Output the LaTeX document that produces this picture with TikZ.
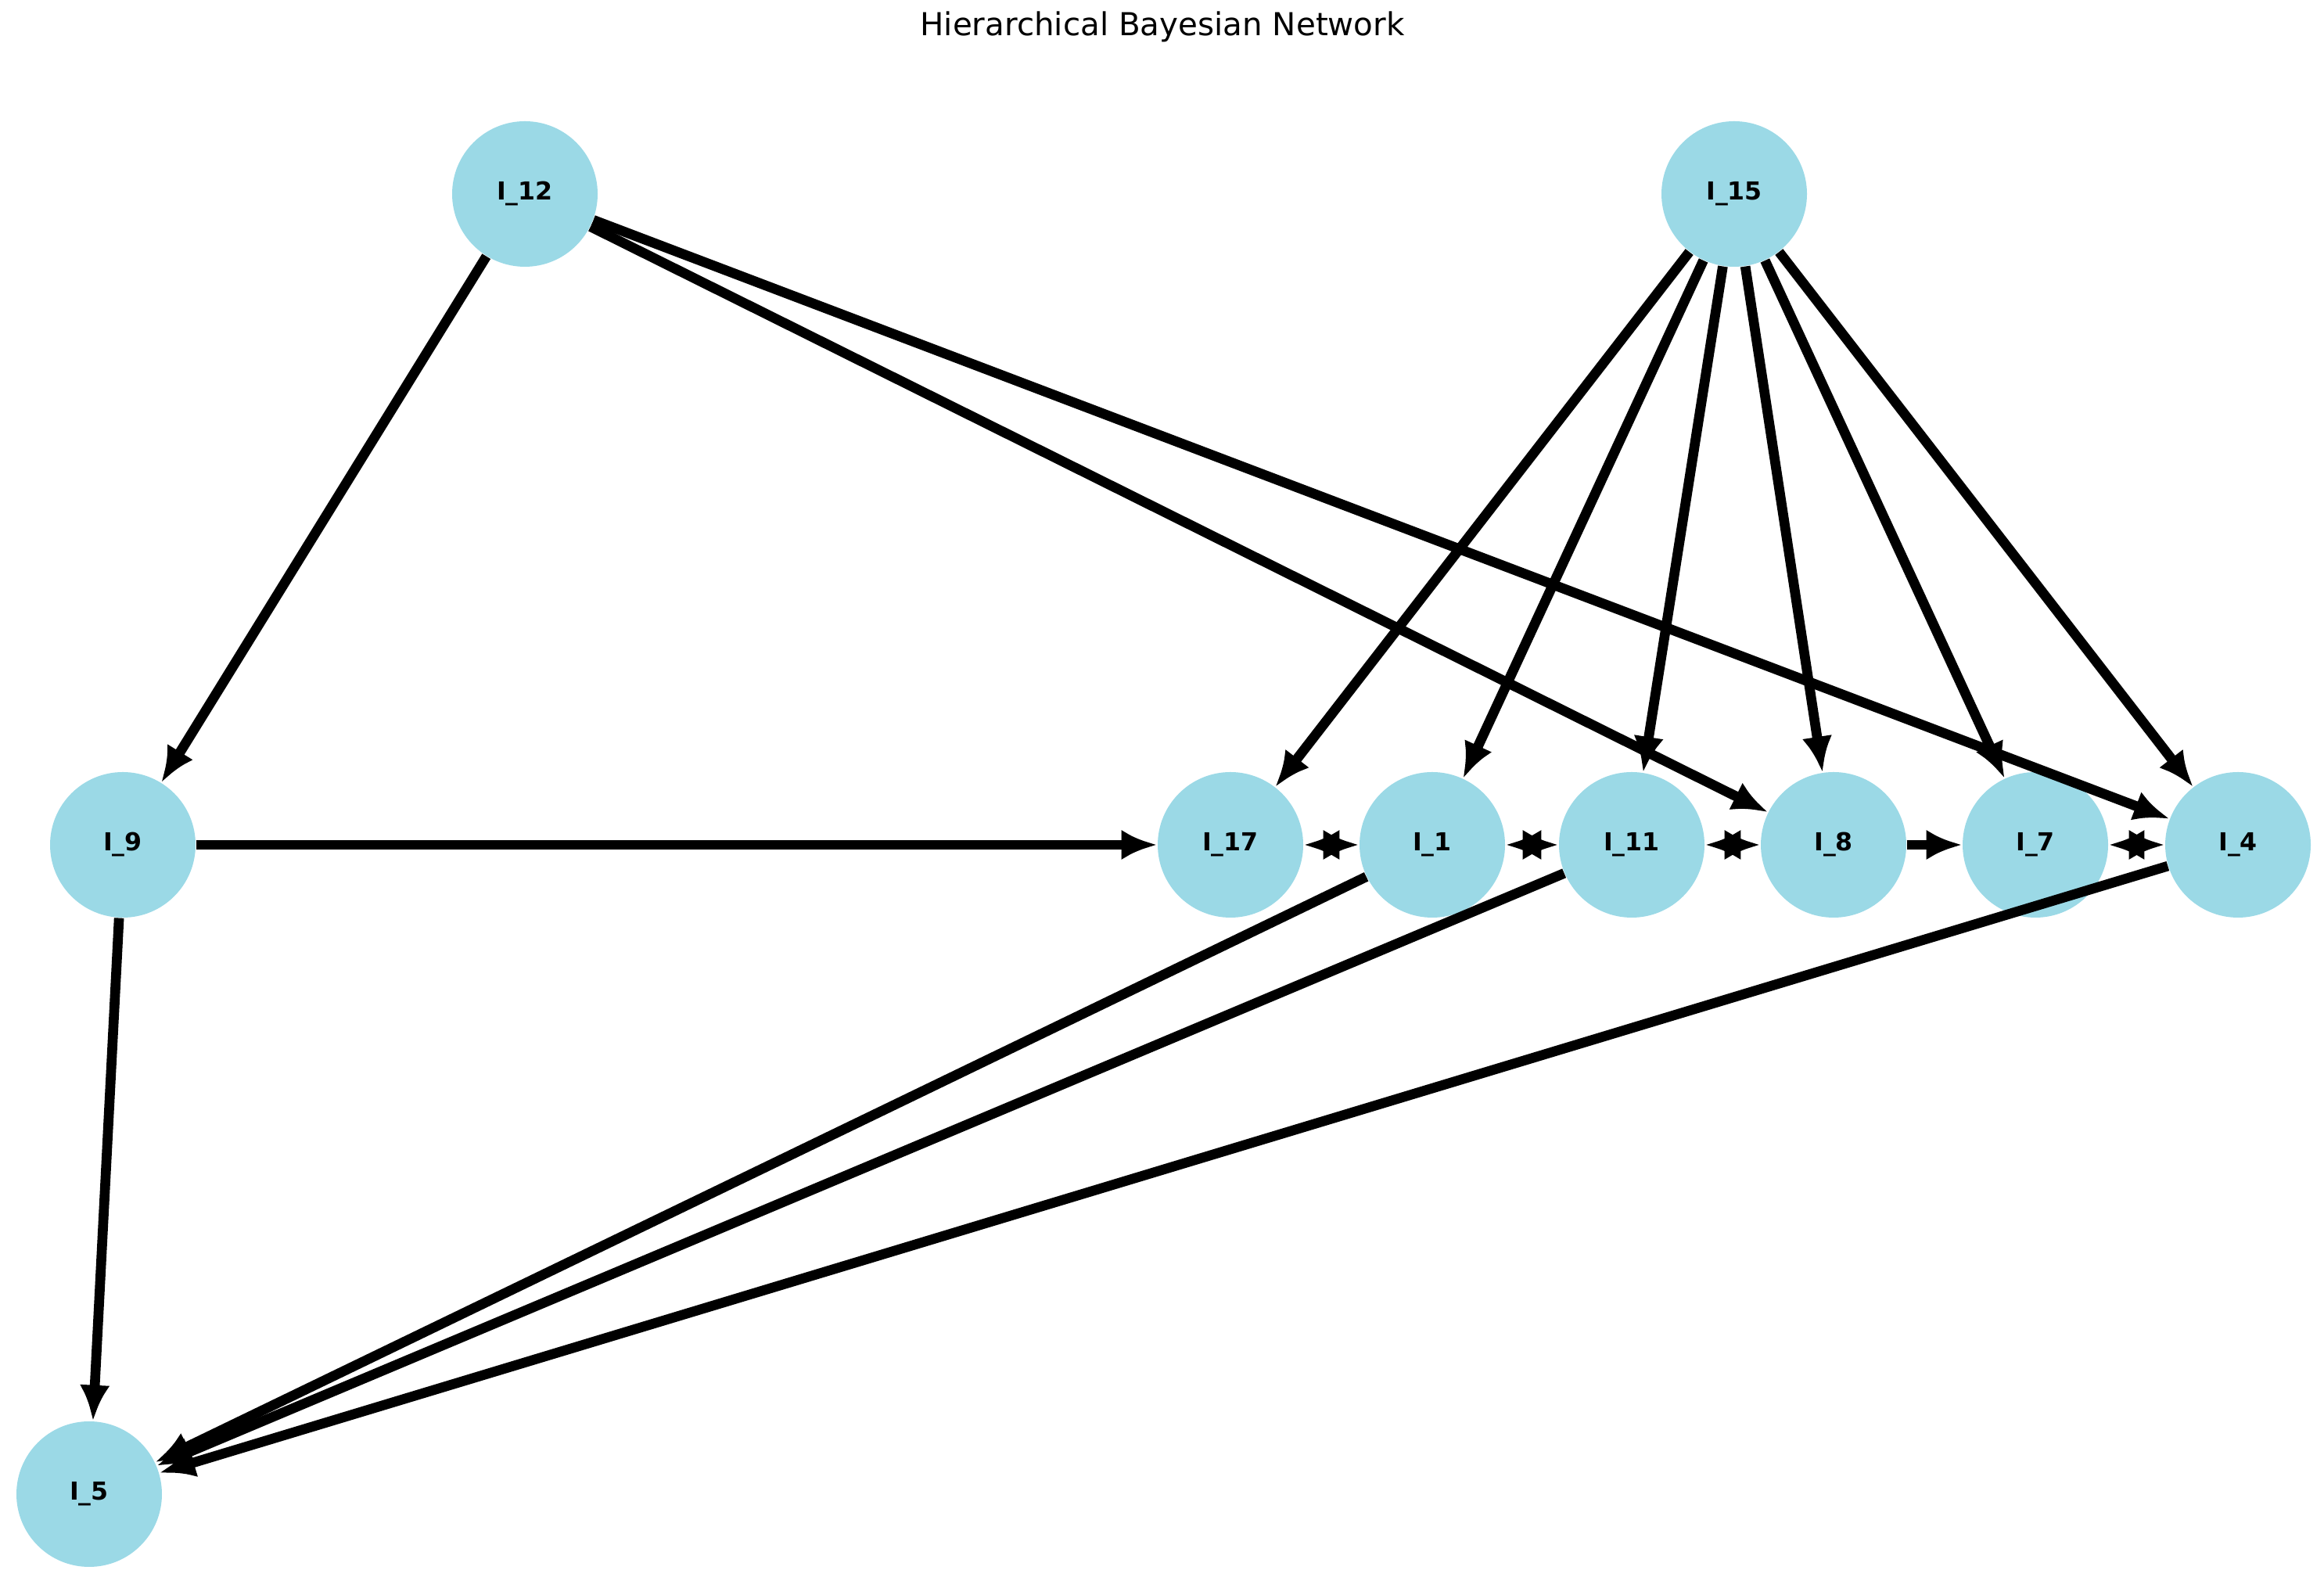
\documentclass[tikz,border=0pt]{standalone}
\usepackage{fontspec}
\setmainfont{DejaVu Sans}
\usetikzlibrary{arrows.meta}
\begin{document}
\begin{tikzpicture}[x=1cm,y=1cm,
  nd/.style={circle,fill=cyan!25!teal!0!white,fill={rgb,255:red,155;green,217;blue,230},minimum size=1.86cm,inner sep=0pt,font=\fontsize{9}{10}\selectfont\bfseries},
  ed/.style={line width=3.6pt,-{Latex[length=13pt,width=11pt]}},
  bd/.style={line width=3.6pt,{Latex[length=13pt,width=11pt]}-{Latex[length=13pt,width=11pt]}}]
\useasboundingbox (0,0) rectangle (29.71,20.30);
\node[font=\fontsize{11.5}{13}\selectfont] (title) at (14.86,19.96) {Hierarchical Bayesian Network};
\node[nd] (n12) at (6.71,17.82) {I\_12};
\node[nd] (n15) at (22.17,17.82) {I\_15};
\node[nd] (n9) at (1.57,9.50) {I\_9};
\node[nd] (n17) at (15.73,9.50) {I\_17};
\node[nd] (n1) at (18.31,9.50) {I\_1};
\node[nd] (n11) at (20.86,9.50) {I\_11};
\node[nd] (n8) at (23.44,9.50) {I\_8};
\node[nd] (n7) at (26.02,9.50) {I\_7};
\node[nd] (n4) at (28.61,9.50) {I\_4};
\node[nd] (n5) at (1.14,1.20) {I\_5};
\draw[ed] (n12) -- (n9);
\draw[ed] (n12) -- (n8);
\draw[ed] (n12) -- (n4);
\foreach \t in {n17,n1,n11,n8,n7,n4} \draw[ed] (n15) -- (\t);
\draw[ed] (n9) -- (n17);
\draw[ed] (n9) -- (n5);
\draw[ed] (n1) -- (n5);
\draw[ed] (n11) -- (n5);
\draw[ed] (n4) -- (n5);
\draw[bd] (n17) -- (n1);
\draw[bd] (n1) -- (n11);
\draw[bd] (n11) -- (n8);
\draw[ed] (n8) -- (n7);
\draw[bd] (n7) -- (n4);
\end{tikzpicture}
\end{document}
